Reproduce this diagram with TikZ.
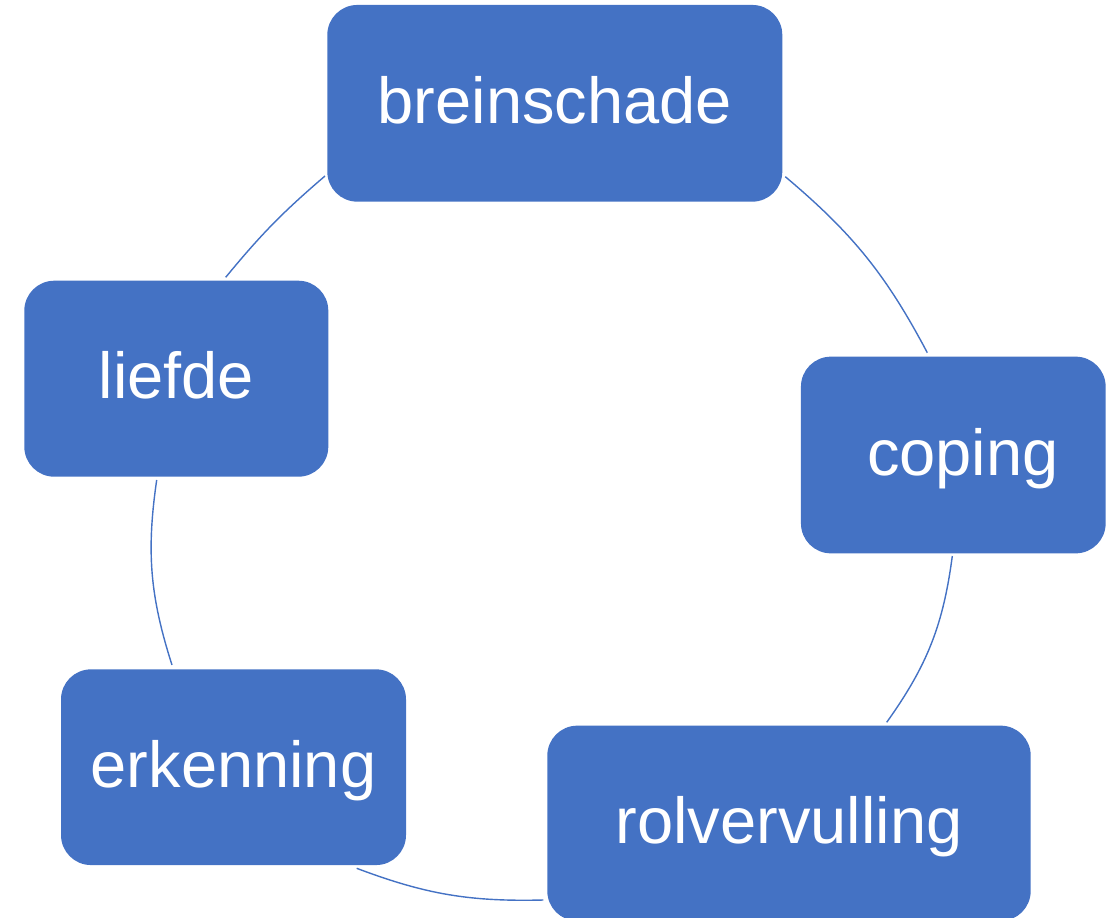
\documentclass[tikz,border=0pt]{standalone}
\usepackage{fontspec}
\setmainfont{Liberation Sans}
\definecolor{officeblue}{RGB}{68,114,196}
\tikzset{
  cyclebox/.style={rectangle, rounded corners=0.3cm, fill=officeblue, draw=none,
    inner sep=0pt, text=white, font=\fontsize{18.5pt}{22pt}\selectfont,
    text height=0.52cm, text depth=0.12cm},
  cyclearc/.style={draw=officeblue, line width=0.4pt}
}
\begin{document}
\begin{tikzpicture}
\useasboundingbox (0,0) rectangle (11.17,-9.18);
% boxes
\node[cyclebox, minimum width=4.55cm, minimum height=1.967cm] (brein) at (5.548,-1.033) {breinschade};
\node[cyclebox, minimum width=3.047cm, minimum height=1.967cm] (coping) at (9.533,-4.55) {\hspace*{0.19cm}coping};
\node[cyclebox, minimum width=4.834cm, minimum height=1.953cm] (rolv) at (7.89,-8.233) {rolvervulling};
\node[cyclebox, minimum width=3.45cm, minimum height=1.957cm] (erk) at (2.335,-7.672) {erkenning};
\node[cyclebox, minimum width=3.04cm, minimum height=1.96cm] (liefde) at (1.763,-3.787) {liefde};
% arc end points
\coordinate (l1) at (2.257,-2.773);
\coordinate (b1) at (3.25,-1.76);
\coordinate (b2) at (7.853,-1.767);
\coordinate (c1) at (9.273,-3.527);
\coordinate (c2) at (9.523,-5.56);
\coordinate (r1) at (8.867,-7.223);
\coordinate (r2) at (5.433,-9.00);
\coordinate (e1) at (3.567,-8.683);
\coordinate (e2) at (1.72,-6.65);
\coordinate (l2) at (1.567,-4.80);
% arcs
\draw[cyclearc] (l1) to[bend left=5] (b1);
\draw[cyclearc] (b2) to[bend left=11] (c1);
\draw[cyclearc] (c2) to[bend left=14] (r1);
\draw[cyclearc] (r2) to[bend left=11] (e1);
\draw[cyclearc] (e2) to[bend left=13] (l2);
\end{tikzpicture}
\end{document}
